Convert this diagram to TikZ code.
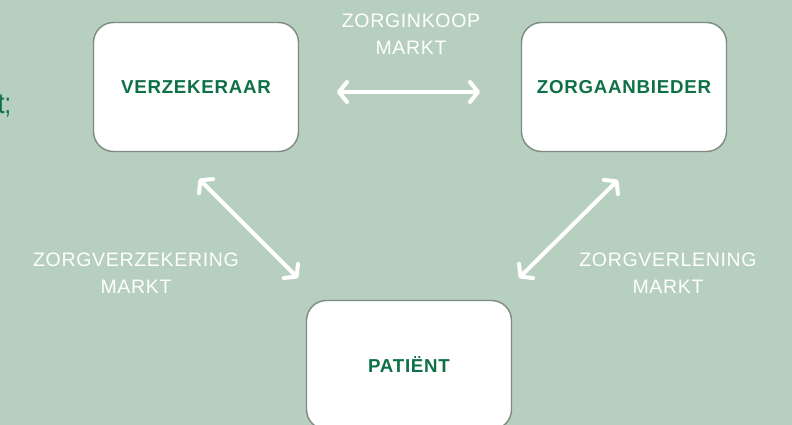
\documentclass[tikz,border=0pt]{standalone}
\usepackage{fontspec}
\setmainfont{Liberation Sans}
\usetikzlibrary{arrows.meta}
\definecolor{bg}{HTML}{B7CFBF}
\definecolor{dgreen}{HTML}{0E7047}
\definecolor{boxedge}{HTML}{7E8A82}
\tikzset{
  actor/.style={draw=boxedge, line width=1.4pt, fill=white, rounded corners=20pt,
    minimum width=205pt, minimum height=129pt, inner sep=0pt,
    font=\fontsize{18.7}{20}\selectfont\bfseries\addfontfeatures{LetterSpace=4}, text=dgreen},
  mlabel/.style={align=center, text=white, font=\fontsize{19.5}{27}\selectfont\addfontfeatures{LetterSpace=3.5}},
  market/.style={draw=white, line width=4pt, line cap=round,
    {Straight Barb[length=8pt,width=20pt,line width=4pt,round]}-{Straight Barb[length=8pt,width=20pt,line width=4pt,round]}}
}
\begin{document}
\begin{tikzpicture}[x=1pt,y=-1pt]
\fill[bg] (0,0) rectangle (792,425);
\useasboundingbox (0,0) rectangle (792,425);
\node[anchor=west, text=dgreen, inner sep=0pt, font=\fontsize{29}{30}\selectfont\addfontfeatures{FakeStretch=0.8}] (frag) at (-2,106) {t;};
\node[actor] (verz) at (196,87) {VERZEKERAAR};
\node[actor] (zorg) at (624,87) {ZORGAANBIEDER};
\node[actor] (pat) at (409,365) {PATIËNT};
\node[mlabel] (inkoop) at (411,34) {ZORGINKOOP\\MARKT};
\node[mlabel] (verzm) at (136,273) {ZORGVERZEKERING\\MARKT};
\node[mlabel] (verlm) at (668,273) {ZORGVERLENING\\MARKT};
\coordinate (a1) at (337,92);
\coordinate (a2) at (480,92);
\coordinate (b1) at (199,179);
\coordinate (b2) at (298,278);
\coordinate (c1) at (618,180);
\coordinate (c2) at (519,278);
\draw[market] (a1) -- (a2);
\draw[market] (b1) -- (b2);
\draw[market] (c1) -- (c2);
\end{tikzpicture}
\end{document}
